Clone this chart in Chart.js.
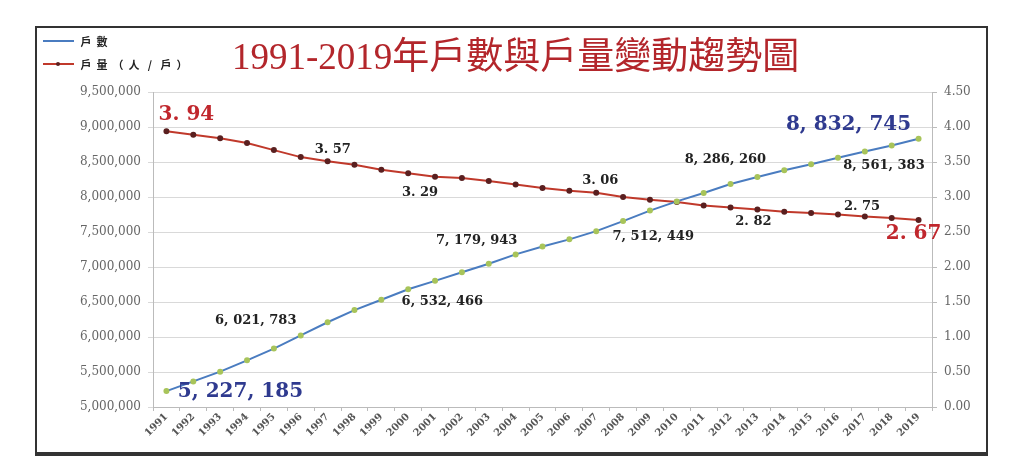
<!DOCTYPE html>
<html>
<head>
<meta charset="utf-8">
<script src="https://cdn.jsdelivr.net/npm/chart.js@4/dist/chart.umd.min.js"></script>
<style>
html,body{margin:0;padding:0;background:#fff;}
canvas{display:block;}
</style>
</head>
<body>
<canvas id="c" width="1024" height="474"></canvas>
<script>
// ---- data ----
const years = ['1991','1992','1993','1994','1995','1996','1997','1998','1999','2000','2001','2002','2003','2004','2005','2006','2007','2008','2009','2010','2011','2012','2013','2014','2015','2016','2017','2018','2019'];
const households = [5227185,5366000,5505000,5667000,5835000,6021783,6211000,6384000,6532466,6681685,6802281,6925019,7047168,7179943,7292879,7394758,7512449,7655772,7805834,7937024,8057761,8186432,8286260,8382699,8468978,8561383,8649000,8734402,8832745];
const householdSize = [3.94,3.89,3.84,3.77,3.67,3.57,3.51,3.46,3.39,3.34,3.29,3.27,3.23,3.18,3.13,3.09,3.06,3.00,2.96,2.93,2.88,2.85,2.82,2.79,2.77,2.75,2.72,2.70,2.67];
const titleText = '1991-2019年戶數與戶量變動趨勢圖';
const legendHH = '戶數';
const legendSize = '戶量（人/戶）';
// labelled points (indices into the series)
const hhLabelIdx = [0,5,8,13,16,22,25,28];
const sizeLabelIdx = [0,5,10,16,22,25,28];
// ---- label placement (style) ----
const hhLabelOffsets = [[74,1],[-45,-15],[61,2],[-39,-14],[57,5],[-32,-17],[46,8],[-70,-14]];
const sizeLabelOffsets = [[20,-16],[32,-7],[-15,16],[4,-12],[-4,12],[24,-8],[-5,14]];

const fmtHH = v => v.toLocaleString('en-US').replace(/,/g, ', ');
const fmtSize = v => v.toFixed(2).replace('.', '. ');

const decor = {
  id: 'decor',
  beforeDraw(chart) {
    const ctx = chart.ctx;
    ctx.save();
    ctx.fillStyle = '#fff';
    ctx.fillRect(0, 0, chart.width, chart.height);
    ctx.restore();
  },
  afterDraw(chart) {
    const ctx = chart.ctx;
    ctx.save();
    // frame
    ctx.strokeStyle = '#333';
    ctx.lineWidth = 2;
    ctx.strokeRect(36, 27, 951, 427);
    ctx.fillStyle = '#333';
    ctx.fillRect(35, 452, 953, 4);
    // title
    ctx.fillStyle = '#b3262b';
    ctx.font = '37px "Liberation Serif", "Noto Sans CJK TC", serif';
    ctx.textAlign = 'left';
    ctx.textBaseline = 'alphabetic';
    ctx.fillText(titleText, 232, 69);
    // legend
    ctx.lineWidth = 2;
    ctx.strokeStyle = '#4a7cc0';
    ctx.beginPath(); ctx.moveTo(43, 41); ctx.lineTo(74, 41); ctx.stroke();
    ctx.strokeStyle = '#c0392b';
    ctx.beginPath(); ctx.moveTo(43, 64); ctx.lineTo(74, 64); ctx.stroke();
    ctx.fillStyle = '#5a2020';
    ctx.beginPath(); ctx.arc(58, 64, 2, 0, Math.PI * 2); ctx.fill();
    ctx.fillStyle = '#222';
    ctx.font = 'bold 11px "Noto Sans CJK TC", sans-serif';
    ctx.textBaseline = 'middle';
    ctx.textAlign = 'center';
    [...legendHH].forEach((ch, i) => ctx.fillText(ch, 86 + i * 16, 42));
    [...legendSize].forEach((ch, i) => ctx.fillText(ch, 86 + i * 16, 65));
    ctx.restore();
  },
  afterDatasetsDraw(chart) {
    const ctx = chart.ctx;
    ctx.save();
    ctx.textAlign = 'center';
    ctx.textBaseline = 'middle';
    const m0 = chart.getDatasetMeta(0), m1 = chart.getDatasetMeta(1);
    hhLabelIdx.forEach((idx, k) => {
      const p = m0.data[idx];
      const big = (k === 0 || k === hhLabelIdx.length - 1);
      ctx.font = big ? 'bold 20px "DejaVu Serif", serif' : 'bold 13px "DejaVu Serif", serif';
      ctx.fillStyle = big ? '#2f3a8f' : '#222';
      ctx.fillText(fmtHH(households[idx]), p.x + hhLabelOffsets[k][0], p.y + hhLabelOffsets[k][1]);
    });
    sizeLabelIdx.forEach((idx, k) => {
      const p = m1.data[idx];
      const big = (k === 0 || k === sizeLabelIdx.length - 1);
      ctx.font = big ? 'bold 20px "DejaVu Serif", serif' : 'bold 13px "DejaVu Serif", serif';
      ctx.fillStyle = big ? '#c0272d' : '#222';
      ctx.fillText(fmtSize(householdSize[idx]), p.x + sizeLabelOffsets[k][0], p.y + sizeLabelOffsets[k][1]);
    });
    ctx.restore();
  }
};

new Chart(document.getElementById('c'), {
  type: 'line',
  data: {
    labels: years,
    datasets: [
      {
        label: legendHH,
        data: households,
        yAxisID: 'y',
        borderColor: '#4a7cc0',
        borderWidth: 2,
        pointRadius: 2,
        pointBackgroundColor: '#a8c45a',
        pointBorderColor: '#a8c45a',
        tension: 0
      },
      {
        label: legendSize,
        data: householdSize,
        yAxisID: 'y1',
        borderColor: '#c0392b',
        borderWidth: 2,
        pointRadius: 2,
        pointBackgroundColor: '#5a2020',
        pointBorderColor: '#5a2020',
        tension: 0
      }
    ]
  },
  options: {
    responsive: false,
    animation: false,
    devicePixelRatio: 1,
    layout: { padding: { top: 92, left: 0, right: 0, bottom: 0 }, autoPadding: false },
    plugins: { legend: { display: false }, title: { display: false }, tooltip: { enabled: false } },
    scales: {
      x: {
        offset: true,
        afterFit: s => { s.height = 67; },
        grid: { offset: true, drawOnChartArea: false, tickLength: 4, color: '#bbb' },
        border: { color: '#bbb' },
        ticks: {
          minRotation: 45, maxRotation: 45, autoSkip: false, padding: 0,
          color: '#555', font: { family: '"DejaVu Serif", serif', size: 10, weight: 'bold' }
        }
      },
      y: {
        position: 'left',
        min: 5000000, max: 9500000,
        afterFit: s => { s.width = 153; },
        grid: { color: '#d9d9d9', tickLength: 5 },
        border: { color: '#bbb' },
        ticks: {
          stepSize: 500000, padding: 7,
          color: '#666', font: { family: '"DejaVu Serif", serif', size: 12 },
          callback: v => Number(v).toLocaleString('en-US')
        }
      },
      y1: {
        position: 'right',
        min: 0, max: 4.5,
        afterFit: s => { s.width = 92; },
        grid: { drawOnChartArea: false, tickLength: 5, color: '#bbb' },
        border: { color: '#bbb' },
        ticks: {
          stepSize: 0.5, padding: 7,
          color: '#666', font: { family: '"DejaVu Serif", serif', size: 12 },
          callback: v => Number(v).toFixed(2)
        }
      }
    }
  },
  plugins: [decor]
});
</script>
</body>
</html>
